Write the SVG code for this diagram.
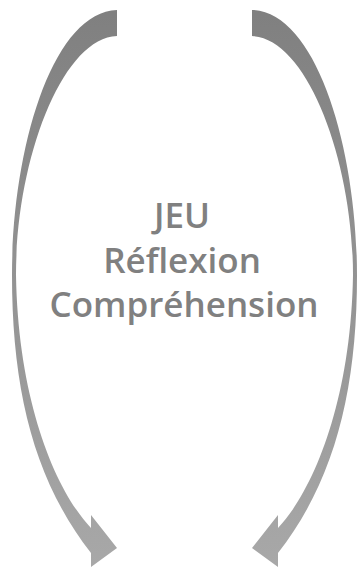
<svg xmlns="http://www.w3.org/2000/svg" width="358" height="567" viewBox="0 0 358 567">
<defs>
<linearGradient id="g" x1="0" y1="0" x2="0" y2="567" gradientUnits="userSpaceOnUse">
<stop offset="0" stop-color="#7f7f7f"/>
<stop offset="0.5" stop-color="#939393"/>
<stop offset="1" stop-color="#a8a8a8"/>
</linearGradient>
<path id="arr" d="M117,10 C52,12 12,150 12,275 C12,390 34,480 91,553 L91,567 L117,548 L91,515 L91,528 C55,490 18,400 16,275 C16,160 62,38 117,36 Z"/>
</defs>
<style>
.a{fill:url(#g);}
.t{font-family:"Open Sans","DejaVu Sans",sans-serif;font-weight:600;font-size:35px;fill:#808080;text-anchor:middle;}
</style>
<g id="connectors">
<use href="#arr" class="a"/>
<use href="#arr" class="a" transform="translate(369,0) scale(-1,1)"/>
</g>
<g id="label">
<text class="t" x="182" y="228">JEU</text>
<text class="t" x="182" y="273">Réflexion</text>
<text class="t" x="184" y="317">Compréhension</text>
</g>
</svg>
